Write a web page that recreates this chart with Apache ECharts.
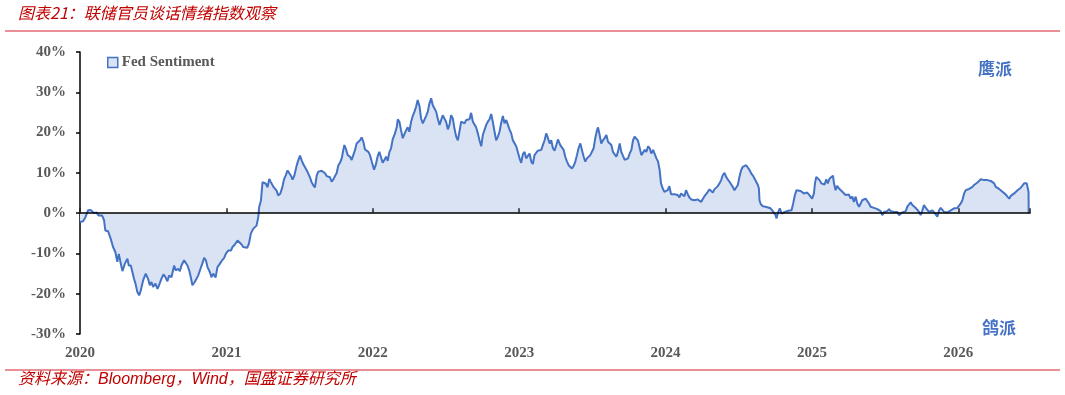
<!DOCTYPE html>
<html><head><meta charset="utf-8">
<script src="https://cdn.jsdelivr.net/npm/echarts@6/dist/echarts.min.js"></script>
<style>html,body{margin:0;padding:0;background:#fff}#c{width:1065px;height:395px}</style>
</head><body><div id="c"></div><script>
const titleText = '图表21：联储官员谈话情绪指数观察';
const sourceText = '资料来源：Bloomberg，Wind，国盛证券研究所';
const seriesName = 'Fed Sentiment';
const hawkLabel = '鹰派';
const doveLabel = '鸽派';
const yMin = -30, yMax = 40, yStep = 10;
const xMin = 2020, xMax = 2026.49, xStep = 1;

const dates = [
2020.000,2020.021,2020.037,2020.055,2020.073,2020.082,2020.096,2020.112,2020.128,2020.141,
2020.151,2020.164,2020.173,2020.192,2020.210,2020.226,2020.242,2020.255,2020.265,2020.278,
2020.290,2020.306,2020.324,2020.333,2020.347,2020.358,2020.369,2020.379,2020.392,2020.404,
2020.415,2020.431,2020.449,2020.465,2020.477,2020.488,2020.499,2020.515,2020.529,2020.540,
2020.556,2020.570,2020.584,2020.597,2020.609,2020.625,2020.643,2020.654,2020.670,2020.682,
2020.693,2020.711,2020.721,2020.734,2020.746,2020.757,2020.768,2020.784,2020.796,2020.807,
2020.823,2020.835,2020.848,2020.860,2020.871,2020.887,2020.898,2020.910,2020.926,2020.939,
2020.955,2020.971,2020.985,2020.996,2021.012,2021.031,2021.042,2021.058,2021.076,2021.088,
2021.104,2021.115,2021.126,2021.142,2021.154,2021.167,2021.183,2021.195,2021.206,2021.218,
2021.224,2021.236,2021.247,2021.259,2021.270,2021.281,2021.293,2021.304,2021.320,2021.332,
2021.343,2021.354,2021.368,2021.382,2021.393,2021.405,2021.418,2021.430,2021.441,2021.452,
2021.464,2021.480,2021.491,2021.503,2021.514,2021.525,2021.537,2021.555,2021.571,2021.582,
2021.594,2021.605,2021.617,
2021.628,2021.639,2021.651,2021.662,2021.674,2021.685,2021.696,2021.708,2021.719,2021.731,
2021.742,2021.753,2021.765,2021.776,2021.788,2021.799,2021.806,2021.815,2021.829,2021.845,
2021.856,2021.867,2021.879,2021.890,2021.902,2021.913,2021.924,2021.936,2021.947,2021.959,
2021.970,2021.981,2021.993,2022.009,2022.020,2022.034,2022.045,2022.057,2022.068,2022.079,
2022.091,2022.102,2022.114,2022.125,2022.136,2022.152,2022.164,2022.171,2022.182,2022.193,
2022.205,2022.216,2022.228,2022.239,2022.250,2022.262,2022.273,2022.285,2022.296,2022.307,
2022.319,2022.330,2022.342,2022.353,2022.364,2022.376,2022.387,2022.399,2022.410,2022.421,
2022.433,2022.444,2022.456,2022.467,2022.478,2022.490,2022.501,2022.513,2022.524,2022.535,
2022.547,2022.558,2022.570,2022.581,2022.592,2022.604,2022.615,2022.627,2022.638,2022.649,
2022.661,2022.672,2022.684,2022.695,2022.706,2022.718,2022.729,2022.741,2022.752,2022.763,
2022.775,2022.786,2022.798,2022.809,2022.820,2022.832,2022.843,2022.855,2022.866,2022.877,
2022.889,2022.900,2022.912,2022.923,2022.934,2022.946,2022.957,2022.969,2022.980,2022.991,
2023.003,2023.014,2023.026,2023.037,2023.048,2023.060,2023.071,2023.083,2023.094,2023.105,
2023.117,2023.128,2023.140,2023.151,2023.162,2023.174,2023.185,2023.197,2023.208,2023.219,
2023.231,2023.242,2023.254,2023.265,
2023.281,2023.292,2023.304,2023.315,2023.327,2023.338,2023.349,2023.361,2023.372,2023.384,
2023.395,2023.406,2023.418,2023.429,2023.441,2023.452,2023.463,2023.475,2023.486,2023.498,
2023.509,2023.520,2023.532,2023.539,2023.550,2023.561,2023.573,2023.584,2023.596,2023.607,
2023.618,2023.630,2023.641,2023.653,2023.664,2023.675,2023.687,2023.698,2023.710,2023.721,
2023.732,2023.744,2023.755,2023.767,2023.778,2023.789,2023.801,2023.812,2023.824,2023.835,
2023.846,2023.858,2023.869,2023.881,2023.892,2023.903,2023.915,2023.926,2023.938,2023.949,
2023.960,2023.969,2023.981,2023.992,2024.004,2024.015,2024.026,2024.038,2024.049,2024.061,
2024.072,2024.083,2024.095,2024.106,2024.118,2024.129,2024.140,2024.152,2024.163,2024.175,
2024.186,2024.198,2024.209,2024.220,2024.232,2024.243,2024.254,2024.266,2024.277,2024.289,
2024.300,2024.311,2024.323,2024.334,2024.346,2024.357,2024.369,2024.380,2024.391,2024.403,
2024.414,2024.425,2024.437,2024.448,2024.460,2024.471,2024.482,2024.494,2024.505,2024.517,
2024.528,2024.539,2024.551,2024.562,2024.574,2024.585,2024.596,2024.608,2024.619,2024.631,
2024.638,2024.642,2024.651,2024.665,2024.683,2024.701,2024.717,2024.729,2024.740,2024.752,
2024.758,2024.770,2024.781,2024.793,2024.804,2024.815,2024.827,2024.838,2024.850,2024.861,
2024.872,2024.884,2024.895,2024.907,
2024.923,2024.934,2024.945,2024.957,2024.968,2024.980,2024.991,2025.002,2025.014,2025.021,
2025.030,2025.041,2025.052,2025.064,2025.075,2025.087,2025.098,2025.109,2025.121,2025.132,
2025.144,2025.151,2025.162,2025.173,2025.185,2025.196,2025.208,2025.219,2025.230,2025.242,
2025.253,2025.265,2025.276,2025.287,2025.299,2025.310,2025.322,2025.333,2025.344,2025.356,
2025.367,2025.379,2025.390,2025.401,2025.413,2025.424,2025.436,2025.447,2025.458,2025.470,
2025.481,2025.493,2025.504,2025.515,2025.527,2025.538,2025.550,2025.561,2025.572,2025.584,
2025.595,2025.607,2025.618,2025.629,2025.641,2025.652,2025.664,2025.675,2025.686,2025.698,
2025.709,2025.721,2025.732,2025.743,2025.755,2025.766,2025.778,2025.789,2025.800,2025.812,
2025.823,2025.835,2025.846,2025.857,2025.869,2025.880,2025.892,2025.903,2025.914,2025.926,
2025.937,2025.949,2025.960,2025.971,2025.983,2025.994,2026.006,2026.017,2026.028,2026.040,
2026.051,2026.063,2026.074,2026.085,2026.097,2026.108,2026.120,2026.131,2026.142,2026.154,
2026.165,2026.177,2026.188,2026.199,2026.211,2026.222,2026.234,2026.245,2026.256,2026.268,
2026.279,2026.291,2026.302,2026.313,2026.325,2026.336,2026.348,2026.359,2026.370,2026.382,
2026.393,2026.405,2026.416,2026.427,2026.439,2026.450,2026.462,2026.468,2026.475,2026.480,
2026.481
];

const sentiment = [
-2.2,-2.0,-1.0,0.7,0.8,0.4,0.0,0.2,-0.6,-1.0,
-0.6,-1.7,-4.3,-4.5,-6.4,-8.4,-9.7,-12.1,-10.1,-12.4,
-14.4,-12.6,-11.3,-13.0,-13.0,-14.6,-16.3,-17.5,-19.6,-20.4,
-19.2,-16.7,-15.0,-16.3,-17.9,-17.1,-18.3,-17.5,-18.8,-17.9,
-16.3,-15.2,-15.9,-16.9,-15.5,-15.9,-13.0,-14.2,-13.8,-14.4,
-13.0,-11.7,-11.3,-13.0,-14.2,-15.9,-17.9,-17.1,-16.3,-15.5,
-13.8,-12.6,-11.1,-11.7,-13.4,-14.6,-15.9,-15.0,-16.0,-13.4,
-12.6,-11.7,-11.1,-10.1,-9.3,-9.3,-8.4,-7.8,-6.8,-6.4,
-7.8,-8.4,-8.8,-8.6,-7.6,-5.1,-3.9,-3.5,-3.1,-1.0,
1.5,3.1,7.7,7.9,7.3,6.4,8.5,7.7,6.6,6.9,
5.6,4.4,4.8,6.4,8.3,9.3,10.6,10.2,9.3,8.3,
9.3,11.8,13.1,14.3,13.1,12.2,11.8,10.2,8.9,7.7,
6.9,6.4,9.3,
10.3,10.7,10.5,10.8,9.9,9.2,9.4,8.9,7.8,8.4,
9.2,9.9,11.9,12.5,13.6,15.7,16.9,16.1,14.4,14.0,
13.2,14.4,15.7,17.3,17.7,18.1,18.8,17.7,15.8,15.7,
15.2,14.4,12.8,10.8,11.9,14.2,15.2,14.8,12.5,13.2,
14.0,13.0,15.2,16.1,18.3,19.8,21.4,23.3,22.7,20.6,
18.6,19.0,20.6,21.3,20.2,22.7,24.1,25.2,26.4,28.1,
26.6,23.5,22.3,22.1,24.1,25.2,27.2,28.5,26.8,27.1,
25.2,23.5,21.9,23.1,24.3,24.6,22.7,20.8,21.9,24.3,
23.5,21.0,19.0,18.1,20.2,22.7,22.9,22.3,23.1,22.7,
23.3,24.9,22.7,22.3,21.3,19.8,18.1,16.6,19.4,19.8,
21.9,22.7,23.3,24.6,22.7,20.2,18.1,19.0,20.2,22.3,
24.1,22.3,23.1,22.7,20.8,19.8,18.1,18.0,16.6,15.2,
13.6,12.5,14.7,15.2,13.6,13.2,14.8,12.8,12.2,14.4,
15.0,15.5,15.2,15.7,16.9,18.1,19.8,18.6,17.3,18.1,
16.1,15.5,16.9,18.3,
16.9,17.3,15.7,14.0,12.8,11.9,11.5,11.1,11.7,12.8,
14.4,16.1,17.3,15.7,14.0,12.8,13.6,13.2,14.4,14.8,
16.1,18.6,20.6,21.3,19.4,17.3,18.1,18.6,19.4,17.7,
18.1,16.9,15.2,14.8,14.0,15.2,17.3,15.2,14.8,13.2,
13.6,13.6,14.8,15.7,18.1,19.0,19.1,18.0,16.1,14.4,
14.8,15.7,15.2,16.6,16.1,14.8,15.7,15.5,13.6,12.8,
10.7,7.4,6.1,5.3,5.1,5.7,6.7,4.7,5.1,4.7,
4.5,4.5,3.9,4.9,5.3,4.2,5.7,4.7,3.9,3.4,
3.6,3.2,3.2,3.4,3.1,2.8,2.8,4.2,4.7,5.3,
5.9,5.5,5.1,5.9,5.5,6.7,7.4,8.2,9.4,10.0,
9.0,8.4,7.8,7.4,6.5,5.7,5.9,7.0,9.0,10.7,
11.5,11.1,11.9,11.9,10.7,9.9,9.4,8.6,9.0,7.0,
6.1,3.2,2.2,1.7,1.6,1.4,1.2,0.7,0.6,-0.5,
-1.3,0.3,1.2,-0.1,-0.5,0.3,0.7,0.6,0.9,0.7,
2.4,4.5,5.7,5.3,
5.5,5.7,4.9,4.5,5.1,4.6,4.1,3.6,4.9,7.4,
9.0,8.6,8.2,7.4,7.8,7.1,8.4,7.4,8.6,8.2,
9.3,7.4,5.7,6.8,6.1,5.7,5.3,4.9,4.5,4.1,
4.6,3.6,4.1,2.8,4.1,2.4,1.6,2.0,3.2,3.6,
3.6,3.2,2.4,1.6,1.6,1.3,1.2,1.0,0.7,0.5,
-0.5,0.3,0.7,0.5,1.0,0.5,0.7,0.3,0.5,0.3,
-0.5,-0.1,0.2,0.3,0.5,1.6,2.2,2.7,2.0,1.8,
1.3,1.0,0.3,-0.5,0.7,2.0,1.3,1.0,0.3,0.5,
0.7,0.3,-0.3,-0.9,0.7,1.3,1.2,0.3,0.3,0.2,
0.5,0.7,1.0,1.2,1.2,1.3,1.3,2.4,3.2,4.9,
5.7,5.9,6.0,6.1,6.5,7.0,7.4,7.6,7.8,8.4,
8.0,8.2,8.2,8.2,8.2,8.0,7.8,7.4,6.5,6.1,
6.0,5.7,5.3,5.1,4.6,4.1,3.6,4.3,4.5,4.9,
5.3,5.7,6.0,6.3,6.5,7.4,7.8,7.4,6.1,5.3,
0
];

const serif = '"Liberation Serif", "Times New Roman", serif';
const gray = '#595959';
const blue = '#4472C4';
const fill = '#DAE3F3';
const red = '#C00000';

const chart = echarts.init(document.getElementById('c'), null, {renderer: 'canvas'});
const option = {
  animation: false,
  backgroundColor: '#fff',
  grid: {left: 80, right: 35, top: 52, bottom: 61, containLabel: false},
  legend: {
    left: 107, top: 55, padding: 0, itemWidth: 10, itemHeight: 10, itemGap: 10,
    selectedMode: false,
    textStyle: {fontFamily: serif, fontWeight: 'bold', fontSize: 15, color: gray, padding: [0, 0, 0, -1]},
    data: [{name: seriesName, icon: 'rect', itemStyle: {color: fill, borderColor: blue, borderWidth: 1.5}}]
  },
  xAxis: [
    {
      type: 'value', min: xMin, max: xMax, interval: xStep, position: 'bottom',
      axisLine: {show: false, onZero: false}, axisTick: {show: false}, splitLine: {show: false},
      axisLabel: {margin: 12, fontFamily: serif, fontWeight: 'bold', fontSize: 15, color: gray,
        formatter: v => (Math.abs(v - Math.round(v)) < 1e-6 ? String(Math.round(v)) : '')}
    },
    {
      type: 'value', min: xMin, max: xMax, interval: xStep, position: 'bottom', z: 10,
      axisLine: {show: true, onZero: true, lineStyle: {color: '#000', width: 1.5}},
      axisTick: {show: true, inside: true, length: 5, lineStyle: {color: '#222', width: 1.5}},
      axisLabel: {show: false}, splitLine: {show: false}
    }
  ],
  yAxis: {
    type: 'value', min: yMin, max: yMax, interval: yStep,
    axisLine: {show: true, onZero: false, lineStyle: {color: '#000', width: 1.5}},
    axisTick: {show: true, length: 4, lineStyle: {color: '#000', width: 1.5}},
    splitLine: {show: false},
    axisLabel: {margin: 14, fontFamily: serif, fontWeight: 'bold', fontSize: 15, color: gray, formatter: '{value}%'}
  },
  series: [{
    name: seriesName, type: 'line', xAxisIndex: 0,
    data: dates.map((d, i) => [d, sentiment[i]]),
    showSymbol: false, symbol: 'none', sampling: null,
    lineStyle: {color: blue, width: 2},
    itemStyle: {color: blue},
    areaStyle: {color: fill, opacity: 1},
    z: 2
  }],
  graphic: [
    {type: 'text', left: 18, top: 5, style: {text: titleText, fill: red, font: 'italic 16px "Noto Sans CJK SC", sans-serif'}},
    {type: 'line', shape: {x1: 5, y1: 31, x2: 1060, y2: 31}, style: {stroke: '#E06B73', lineWidth: 1.5}},
    {type: 'line', shape: {x1: 5, y1: 370, x2: 1060, y2: 370}, style: {stroke: '#E06B73', lineWidth: 1.5}},
    {type: 'text', left: 18, top: 372, style: {text: sourceText, fill: red, font: 'italic 16px "Liberation Sans", "Noto Sans CJK SC", sans-serif'}},
    {type: 'text', left: 978, top: 60, style: {text: hawkLabel, fill: blue, font: 'bold 17px "Noto Sans CJK SC", sans-serif'}},
    {type: 'text', left: 982, top: 319, style: {text: doveLabel, fill: blue, font: 'bold 17px "Noto Sans CJK SC", sans-serif'}}
  ]
};
chart.setOption(option);
</script></body></html>
